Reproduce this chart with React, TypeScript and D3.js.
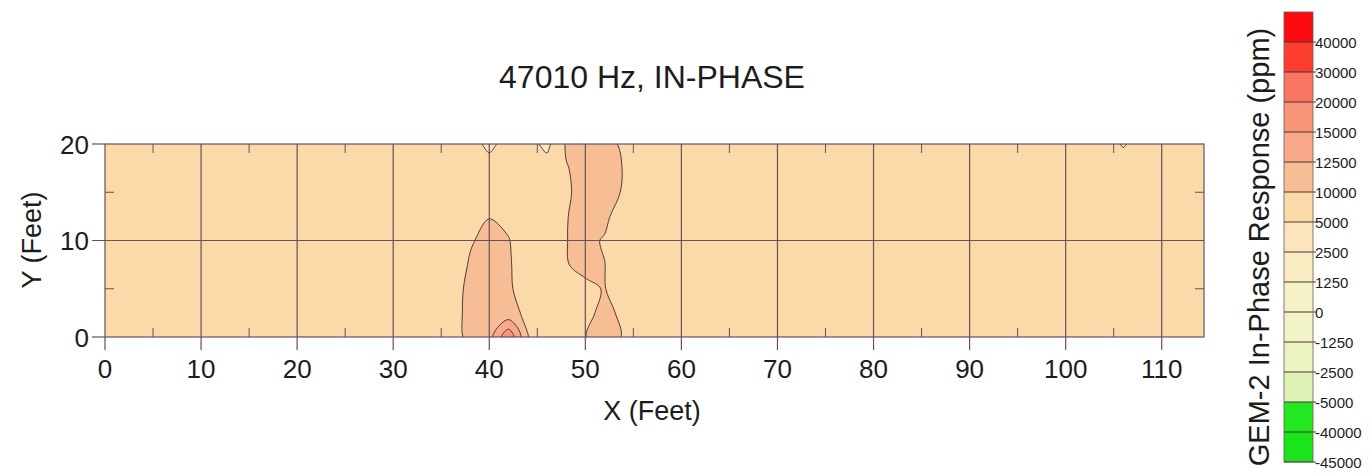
import { useRef, useEffect } from 'react';
import * as d3 from 'd3';

// survey grid spacing (feet)
const X_STEP = 2;
const Y_STEP = 2.5;
const X_MAX = 114.4;
const Y_MAX = 20;

const xTicks = [0, 10, 20, 30, 40, 50, 60, 70, 80, 90, 100, 110];
const yTicks = [0, 10, 20];

// colour levels (ppm) and the band colour above each level
const levels = [-45000, -40000, -5000, -2500, -1250, 0, 1250, 2500, 5000, 10000, 12500, 15000, 20000, 30000, 40000];
const levelLabels = ['-45000', '-40000', '-5000', '-2500', '-1250', '0', '1250', '2500', '5000', '10000', '12500', '15000', '20000', '30000', '40000'];
const bandColors = [
  '#1ae41a', '#22e822', '#e0f2b6', '#ecf4c2', '#f2f4c8', '#f6f2c8', '#f9edc3', '#fce5bd',
  '#fcd9a9', '#f7bd95', '#f8a98a', '#f99579', '#fb7563', '#fd3d2d', '#fb0a0e',
];

// in-phase readings, one row per survey line (y = 0, 2.5, ... 20 ft), x = 0..114 ft every 2 ft
const line00 = [
  7400, 7300, 7500, 7200, 7100, 7300, 7400, 7200, 7000, 7100,
  7200, 7300, 7100, 7000, 7200, 7400, 7300, 7200, 9000, 10600,
  11500, 17000, 10100, 7600, 7500, 9900, 11800, 9700, 7500, 7300,
  7200, 7100, 7300, 7400, 7200, 7100, 7000, 7200, 7300, 7100,
  7000, 7200, 7300, 7100, 7200, 7400, 7300, 7100, 7000, 7200,
  7300, 7100, 7200, 7000, 7100, 7300, 7200, 7100,
];
const line25 = [
  7300, 7400, 7200, 7300, 7200, 7100, 7300, 7300, 7100, 7200,
  7100, 7200, 7300, 7100, 7300, 7200, 7400, 7300, 8800, 10800,
  11200, 10800, 9500, 7400, 7800, 9000, 11000, 9200, 7500, 7200,
  7300, 7200, 7100, 7300, 7300, 7200, 7100, 7300, 7200, 7200,
  7100, 7300, 7200, 7200, 7100, 7300, 7200, 7200, 7100, 7300,
  7200, 7200, 7300, 7100, 7200, 7200, 7300, 7200,
];
const line50 = [
  7200, 7300, 7300, 7200, 7300, 7200, 7200, 7400, 7200, 7300,
  7200, 7100, 7200, 7300, 7200, 7300, 7200, 7500, 8500, 10800,
  11000, 10600, 8000, 7500, 8000, 9600, 10100, 8500, 7400, 7300,
  7200, 7300, 7200, 7200, 7300, 7300, 7200, 7200, 7100, 7300,
  7200, 7200, 7100, 7300, 7300, 7200, 7100, 7300, 7200, 7100,
  7300, 7300, 7100, 7200, 7300, 7100, 7200, 7300,
];
const line75 = [
  7300, 7200, 7400, 7300, 7200, 7300, 7100, 7300, 7300, 7200,
  7300, 7200, 7300, 7200, 7100, 7200, 7300, 7400, 8000, 10300,
  11000, 10500, 7500, 8000, 9900, 10500, 10050, 8500, 7300, 7200,
  7300, 7200, 7300, 7100, 7200, 7200, 7300, 7100, 7200, 7200,
  7300, 7100, 7200, 7200, 7300, 7100, 7200, 7200, 7300, 7200,
  7100, 7200, 7200, 7300, 7200, 7200, 7100, 7200,
];
const line100 = [
  7200, 7300, 7200, 7200, 7300, 7200, 7300, 7200, 7200, 7300,
  7200, 7300, 7200, 7300, 7200, 7300, 7200, 7300, 7500, 9700,
  10900, 10200, 7500, 8000, 9950, 10600, 9800, 8000, 7300, 7200,
  7200, 7300, 7200, 7300, 7100, 7300, 7200, 7300, 7200, 7300,
  7200, 7300, 7200, 7100, 7200, 7300, 7200, 7300, 7100, 7200,
  7300, 7100, 7300, 7200, 7200, 7300, 7200, 7300,
];
const line125 = [
  7300, 7200, 7300, 7300, 7200, 7300, 7200, 7300, 7300, 7200,
  7300, 7200, 7300, 7200, 7300, 7200, 7300, 7200, 7400, 8500,
  9900, 9000, 7600, 8000, 9900, 10800, 10600, 8500, 7300, 7300,
  7100, 7200, 7300, 7200, 7300, 7200, 7300, 7200, 7300, 7100,
  7300, 7200, 7300, 7200, 7100, 7200, 7300, 7200, 7300, 7300,
  7200, 7300, 7200, 7300, 7300, 7200, 7300, 7200,
];
const line150 = [
  7200, 7300, 7200, 7100, 7300, 7200, 7300, 7200, 7100, 7300,
  7200, 7300, 7100, 7300, 7200, 7300, 7200, 7300, 7200, 7500,
  7800, 7600, 7400, 7800, 9600, 11000, 10900, 9800, 7500, 7200,
  7300, 7200, 7200, 7300, 7200, 7300, 7100, 7300, 7200, 7300,
  7200, 7100, 7300, 7200, 7300, 7200, 7100, 7300, 7200, 7200,
  7300, 7200, 7100, 7200, 7300, 7200, 7200, 7300,
];
const line175 = [
  7300, 7200, 7300, 7200, 7200, 7300, 7200, 7100, 7300, 7200,
  7300, 7200, 7300, 7200, 7300, 7100, 7300, 7200, 7300, 7300,
  7300, 7200, 7300, 7500, 9800, 11200, 11000, 9900, 7500, 7300,
  7200, 7300, 7200, 7200, 7300, 7100, 7200, 7200, 7300, 7200,
  7300, 7200, 7200, 7300, 7100, 7300, 7200, 7200, 7300, 7200,
  7200, 7300, 7200, 7300, 7200, 7300, 7200, 7200,
];
const line200 = [
  7200, 7300, 7200, 7300, 7300, 7200, 7300, 7200, 7200, 7300,
  7200, 7200, 7300, 7200, 7200, 7300, 7200, 7300, 7100, 7000,
  3700, 7000, 7000, 3500, 10400, 11500, 11000, 9500, 7500, 7200,
  7300, 7200, 7300, 7200, 7200, 7300, 7200, 7300, 7200, 7300,
  7200, 7300, 7200, 7200, 7300, 7200, 7300, 7200, 7300, 7200,
  7300, 7200, 7000, 4600, 7000, 7200, 7300, 7200,
];
const surveyLines = [line00, line25, line50, line75, line100, line125, line150, line175, line200];

const FONT = 'Arial, "Liberation Sans", sans-serif';
const INK = '#1c1c1c';
const GRID = '#655060';

export default function App() {
  const svgRef = useRef<SVGSVGElement>(null);

  useEffect(() => {
    const svg = d3.select(svgRef.current);
    if (!svg.node()) return;
    svg.selectAll('*').remove();

    const left = 105, right = 1204, top = 144, bottom = 337;
    const x = d3.scaleLinear().domain([0, X_MAX]).range([left, right]);
    const y = d3.scaleLinear().domain([0, Y_MAX]).range([bottom, top]);

    svg.append('rect').attr('width', 1372).attr('height', 476).attr('fill', '#fff');

    svg.append('defs').append('clipPath').attr('id', 'plot-clip')
      .append('rect')
      .attr('x', left).attr('y', top)
      .attr('width', right - left).attr('height', bottom - top);

    // filled contours, rings smoothed so the isolines look hand-contoured
    const nx = surveyLines[0].length;
    const ny = surveyLines.length;
    const grid = surveyLines.flat();
    const contours = d3.contours().size([nx, ny]).thresholds(levels)(grid);
    const ringLine = d3.line<[number, number]>()
      .x(p => x((p[0] - 0.5) * X_STEP))
      .y(p => y((p[1] - 0.5) * Y_STEP))
      .curve(d3.curveCatmullRomClosed.alpha(0.5));
    const contourPath = (c: any) =>
      c.coordinates
        .flatMap((poly: [number, number][][]) => poly)
        .map((ring: [number, number][]) => ringLine(ring.slice(0, -1)) || '')
        .join(' ');

    const g = svg.append('g').attr('clip-path', 'url(#plot-clip)');
    g.selectAll('path.band')
      .data(contours)
      .enter()
      .append('path')
      .attr('class', 'band')
      .attr('d', (d: any) => contourPath(d))
      .attr('fill', (_d: any, i: number) => bandColors[i])
      .attr('stroke', '#3e2c2c')
      .attr('stroke-width', 0.9);

    // grid lines
    xTicks.filter(t => t > 0).forEach(t => {
      svg.append('line')
        .attr('x1', x(t)).attr('x2', x(t))
        .attr('y1', top).attr('y2', bottom + 13)
        .attr('stroke', GRID).attr('stroke-width', 1.2);
    });
    svg.append('line')
      .attr('x1', x(0)).attr('x2', x(0))
      .attr('y1', bottom).attr('y2', bottom + 13)
      .attr('stroke', GRID).attr('stroke-width', 1.2);
    yTicks.forEach(t => {
      svg.append('line')
        .attr('x1', left - 13).attr('x2', t === 10 ? right : left)
        .attr('y1', y(t)).attr('y2', y(t))
        .attr('stroke', GRID).attr('stroke-width', 1.2);
    });

    // minor ticks, inside
    d3.range(5, X_MAX, 10).forEach(t => {
      svg.append('line')
        .attr('x1', x(t)).attr('x2', x(t)).attr('y1', top).attr('y2', top + 9)
        .attr('stroke', GRID).attr('stroke-width', 1);
      svg.append('line')
        .attr('x1', x(t)).attr('x2', x(t)).attr('y1', bottom).attr('y2', bottom - 9)
        .attr('stroke', GRID).attr('stroke-width', 1);
    });
    [5, 15].forEach(t => {
      svg.append('line')
        .attr('x1', left).attr('x2', left + 9).attr('y1', y(t)).attr('y2', y(t))
        .attr('stroke', GRID).attr('stroke-width', 1);
      svg.append('line')
        .attr('x1', right).attr('x2', right - 9).attr('y1', y(t)).attr('y2', y(t))
        .attr('stroke', GRID).attr('stroke-width', 1);
    });

    // frame
    svg.append('rect')
      .attr('x', left).attr('y', top)
      .attr('width', right - left).attr('height', bottom - top)
      .attr('fill', 'none').attr('stroke', GRID).attr('stroke-width', 1.2);

    // tick labels
    svg.append('g').selectAll('text')
      .data(xTicks).enter().append('text')
      .attr('x', (d: number) => x(d)).attr('y', 378)
      .attr('text-anchor', 'middle')
      .style('font-family', FONT).style('font-size', '26px').style('fill', INK)
      .text((d: number) => String(d));
    svg.append('g').selectAll('text')
      .data(yTicks).enter().append('text')
      .attr('x', 89).attr('y', (d: number) => y(d) + 9.5)
      .attr('text-anchor', 'end')
      .style('font-family', FONT).style('font-size', '26px').style('fill', INK)
      .text((d: number) => String(d));

    // titles
    svg.append('text')
      .attr('x', 652).attr('y', 88).attr('text-anchor', 'middle')
      .style('font-family', FONT).style('font-size', '32px').style('fill', INK)
      .text('47010 Hz, IN-PHASE');
    svg.append('text')
      .attr('x', 652).attr('y', 420).attr('text-anchor', 'middle')
      .style('font-family', FONT).style('font-size', '27px').style('fill', INK)
      .text('X (Feet)');
    svg.append('text')
      .attr('transform', 'translate(41, 240) rotate(-90)').attr('text-anchor', 'middle')
      .style('font-family', FONT).style('font-size', '27px').style('fill', INK)
      .text('Y (Feet)');

    // colour bar
    const barX = 1284, barW = 29;
    const cb = d3.scaleLinear().domain([0, levels.length]).range([462, 12]);
    const bar = svg.append('g');
    bar.selectAll('rect')
      .data(bandColors).enter().append('rect')
      .attr('x', barX).attr('width', barW)
      .attr('y', (_d: string, i: number) => cb(i + 1))
      .attr('height', (_d: string, i: number) => cb(i) - cb(i + 1))
      .attr('fill', (d: string) => d);
    bar.selectAll('line')
      .data(levels).enter().append('line')
      .attr('x1', barX).attr('x2', barX + barW + 3)
      .attr('y1', (_d: number, i: number) => cb(i)).attr('y2', (_d: number, i: number) => cb(i))
      .attr('stroke', '#4a3434').attr('stroke-width', 1);
    bar.append('rect')
      .attr('x', barX).attr('y', cb(levels.length))
      .attr('width', barW).attr('height', cb(0) - cb(levels.length))
      .attr('fill', 'none').attr('stroke', '#6a5a5a').attr('stroke-width', 0.8);
    bar.selectAll('text')
      .data(levelLabels).enter().append('text')
      .attr('x', 1315).attr('y', (_d: string, i: number) => cb(i) + 5.5)
      .style('font-family', FONT).style('font-size', '15px').style('fill', INK)
      .text((d: string) => d);
    svg.append('text')
      .attr('transform', 'translate(1269, 247) rotate(-90)').attr('text-anchor', 'middle')
      .style('font-family', FONT).style('font-size', '29px').style('fill', INK)
      .text('GEM-2 In-Phase Response (ppm)');
  }, []);

  return (
    <svg
      ref={svgRef}
      width={1372}
      height={476}
      style={{ position: 'absolute', left: 0, top: 0, display: 'block' }}
    />
  );
}
